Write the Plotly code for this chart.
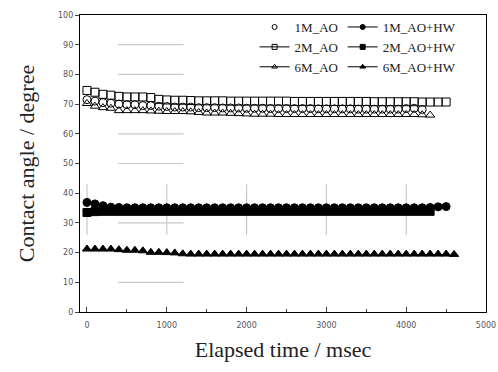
import plotly.graph_objects as go

# ---------------- data ----------------
time_ms = [0, 100, 200, 300, 400, 500, 600, 700, 800, 900,
           1000, 1100, 1200, 1300, 1400, 1500, 1600, 1700, 1800, 1900,
           2000, 2100, 2200, 2300, 2400, 2500, 2600, 2700, 2800, 2900,
           3000, 3100, 3200, 3300, 3400, 3500, 3600, 3700, 3800, 3900,
           4000, 4100, 4200, 4300, 4400, 4500, 4600]

ao_1m = [71.5, 71.0, 70.5, 70.3, 70.0, 69.8, 69.8, 69.5, 69.5, 69.3,
         69.2, 69.0, 69.0, 69.0, 68.8, 68.8, 68.8, 68.7, 68.7, 68.7,
         68.6, 68.6, 68.6, 68.5, 68.5, 68.5, 68.5, 68.5, 68.5, 68.4,
         68.4, 68.4, 68.4, 68.4, 68.3, 68.3, 68.3, 68.3, 68.3, 68.3,
         68.5, 68.6, 68.2]

ao_2m = [74.6, 74.0, 73.3, 73.0, 72.6, 72.4, 72.4, 72.4, 72.2, 71.6,
         71.4, 71.3, 71.3, 71.2, 71.1, 71.1, 71.1, 71.1, 71.0, 71.0,
         71.0, 71.0, 71.0, 71.0, 71.0, 71.0, 70.9, 70.9, 70.9, 70.9,
         70.9, 70.9, 70.9, 70.9, 70.9, 70.9, 70.8, 70.8, 70.8, 70.8,
         70.8, 70.8, 70.7, 70.7, 70.7, 70.7]

ao_6m = [70.2, 69.3, 68.8, 68.6, 67.8, 67.8, 67.8, 67.8, 67.7, 67.6,
         67.5, 67.5, 67.5, 67.4, 67.2, 67.0, 67.0, 67.0, 66.9, 66.8,
         66.7, 66.6, 66.6, 66.6, 66.5, 66.5, 66.5, 66.5, 66.5, 66.5,
         66.5, 66.5, 66.5, 66.5, 66.5, 66.5, 66.5, 66.5, 66.5, 66.5,
         66.5, 66.5, 66.4, 66.3]

ao_hw_1m = [36.9, 36.4, 35.8, 35.3, 35.2, 35.1, 35.1, 35.1, 35.1, 35.1,
            35.1, 35.1, 35.1, 35.1, 35.1, 35.1, 35.1, 35.1, 35.1, 35.1,
            35.1, 35.1, 35.1, 35.1, 35.1, 35.1, 35.1, 35.1, 35.1, 35.1,
            35.1, 35.1, 35.1, 35.1, 35.1, 35.1, 35.1, 35.1, 35.1, 35.1,
            35.1, 35.1, 35.1, 35.2, 35.4, 35.5]

ao_hw_2m = [33.5, 33.8, 33.9, 33.9, 33.9, 33.9, 33.9, 33.9, 33.9, 33.9,
            33.9, 33.9, 33.9, 33.9, 33.9, 33.9, 33.9, 33.9, 33.9, 33.9,
            33.9, 33.9, 33.9, 33.9, 33.9, 33.9, 33.9, 33.9, 33.9, 33.9,
            33.9, 33.9, 33.9, 33.9, 33.9, 33.9, 33.9, 33.9, 33.9, 33.9,
            33.9, 33.9, 33.9, 33.9]

ao_hw_6m = [21.2, 21.2, 21.2, 21.2, 21.0, 20.8, 20.8, 20.6, 20.1, 20.1,
            20.0, 19.9, 19.6, 19.5, 19.5, 19.5, 19.5, 19.5, 19.5, 19.5,
            19.5, 19.5, 19.5, 19.5, 19.5, 19.5, 19.5, 19.5, 19.5, 19.5,
            19.5, 19.5, 19.5, 19.5, 19.5, 19.5, 19.5, 19.5, 19.5, 19.5,
            19.5, 19.5, 19.5, 19.5, 19.5, 19.5, 19.4]

series_names = ["1M_AO", "2M_AO", "6M_AO", "1M_AO+HW", "2M_AO+HW", "6M_AO+HW"]

# faint remnant grid segments seen in the picture
remnant_h_levels = [90, 80, 60, 50, 30, 10]
remnant_h_span = [390, 1210]
remnant_v_positions = [0, 1000, 2000, 3000, 4000]
remnant_v_span = [26, 43]

x_tick_vals = [0, 1000, 2000, 3000, 4000, 5000]
y_tick_vals = [0, 10, 20, 30, 40, 50, 60, 70, 80, 90, 100]

# ---------------- figure ----------------
fig = go.Figure()

series = [
    ("1M_AO", ao_1m, "circle-open", "legend", "markers"),
    ("2M_AO", ao_2m, "square-open", "legend", "lines+markers"),
    ("6M_AO", ao_6m, "triangle-up-open", "legend", "lines+markers"),
    ("1M_AO+HW", ao_hw_1m, "circle", "legend2", "lines+markers"),
    ("2M_AO+HW", ao_hw_2m, "square", "legend2", "lines+markers"),
    ("6M_AO+HW", ao_hw_6m, "triangle-up", "legend2", "lines+markers"),
]

for name, vals, sym, leg, legmode in series:
    fig.add_trace(go.Scatter(
        x=time_ms[:len(vals)], y=vals, mode="markers", name=name,
        showlegend=False,
        marker=dict(symbol=sym, size=8, color="black",
                    line=dict(color="black", width=1)),
    ))
    fig.add_trace(go.Scatter(
        x=[None], y=[None], mode=legmode, name=name, legend=leg,
        marker=dict(symbol=sym, size=5, color="black",
                    line=dict(color="black", width=1)),
        line=dict(color="black", width=1),
    ))

shapes = []
for lv in remnant_h_levels:
    shapes.append(dict(type="line", xref="x", yref="y",
                       x0=remnant_h_span[0], x1=remnant_h_span[1], y0=lv, y1=lv,
                       line=dict(color="#c8c8c8", width=1.2), layer="below"))
for xv in remnant_v_positions:
    shapes.append(dict(type="line", xref="x", yref="y",
                       x0=xv, x1=xv, y0=remnant_v_span[0], y1=remnant_v_span[1],
                       line=dict(color="#c8c8c8", width=1.2), layer="below"))

tick_font = dict(family="DejaVu Sans", size=8, color="#555555")
serif = "Liberation Serif"

fig.update_layout(
    width=498, height=372,
    margin=dict(l=80, r=12, t=13, b=60),
    paper_bgcolor="white", plot_bgcolor="white",
    shapes=shapes,
    xaxis=dict(
        range=[-87.5, 5000], tickvals=x_tick_vals, automargin=False,
        ticks="inside", ticklen=5, tickcolor="#444",
        minor=dict(ticks="inside", ticklen=3, dtick=500, tick0=0, tickcolor="#444"),
        showgrid=False, zeroline=False,
        showline=True, linecolor="black", linewidth=1.3, mirror=True,
        tickfont=tick_font, ticklabelstandoff=5,
        title=dict(text="Elapsed time / msec",
                   font=dict(family=serif, size=22, color="#222"), standoff=12),
    ),
    yaxis=dict(
        range=[0, 100], tickvals=y_tick_vals, automargin=False,
        ticks="outside", ticklen=4, tickcolor="#444",
        showgrid=False, zeroline=False,
        showline=True, linecolor="black", linewidth=1.3, mirror=True,
        tickfont=tick_font,
        title=dict(text="Contact angle / degree",
                   font=dict(family=serif, size=22, color="#222"), standoff=17),
    ),
    legend=dict(x=0.43, y=1.01, xanchor="left", yanchor="top",
                bgcolor="rgba(0,0,0,0)", font=dict(family=serif, size=13, color="#222"),
                itemwidth=30, tracegroupgap=0),
    legend2=dict(x=0.647, y=1.01, xanchor="left", yanchor="top",
                 bgcolor="rgba(0,0,0,0)", font=dict(family=serif, size=13, color="#222"),
                 itemwidth=30, tracegroupgap=0),
)

fig.write_html("out.html",
               config={"displayModeBar": False},
               post_script="document.body.style.margin='0';document.body.style.overflow='hidden';")
